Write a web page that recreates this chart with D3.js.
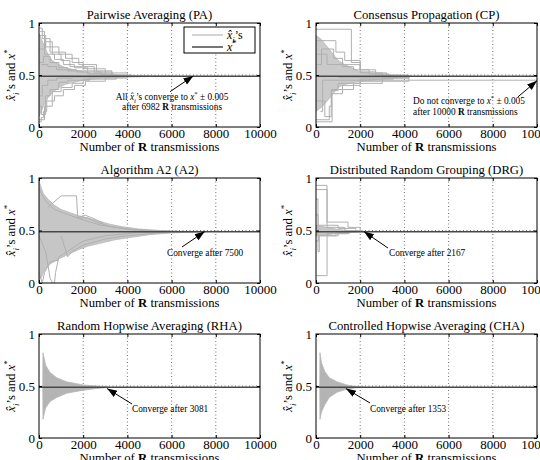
<!DOCTYPE html>
<html><head><meta charset="utf-8">
<script src="https://cdn.jsdelivr.net/npm/d3@7"></script>
<style>
body{margin:0;background:#fff}
svg{display:block}
text{font-family:"Liberation Serif","DejaVu Serif",serif;fill:#000}
</style>
</head><body>
<svg id="c" width="540" height="460"></svg>
<script>
// ---------------- data ----------------
const xTicks = [0, 2000, 4000, 6000, 8000, 10000];
const yTicks = [0, 0.5, 1];
const yTickLabels = ["0", "0.5", "1"];
const xStar = 0.487;
const titles = ["Pairwise Averaging (PA)", "Consensus Propagation (CP)", "Algorithm A2 (A2)",
  "Distributed Random Grouping (DRG)", "Random Hopwise Averaging (RHA)", "Controlled Hopwise Averaging (CHA)"];
const convergeAt = [6982, 10000, 7500, 2167, 3081, 1353];

// dense bundles of x_i traces (upper / lower edges)
const paUpper = [[0,0.9],[200,0.8],[400,0.7],[600,0.64],[900,0.6],[1200,0.57],[1600,0.55],[2000,0.53],[2600,0.515],[3300,0.505],[4000,0.497],[5000,0.491],[6000,0.489]];
const paLower = [[0,0.1],[200,0.2],[400,0.28],[600,0.33],[900,0.38],[1200,0.41],[1600,0.43],[2000,0.45],[2600,0.465],[3300,0.475],[4000,0.48],[5000,0.485],[6000,0.487]];
const cpUpper = [[0,0.88],[200,0.85],[400,0.8],[700,0.72],[1000,0.64],[1300,0.6],[1700,0.56],[2000,0.53],[2700,0.51],[3300,0.5],[4200,0.495]];
const cpLower = [[0,0.15],[300,0.2],[700,0.3],[1000,0.38],[1300,0.41],[1700,0.43],[2000,0.44],[3000,0.46],[4200,0.475]];
const a2Upper = [[0,0.97],[80,0.92],[200,0.85],[400,0.8],[700,0.74],[1000,0.7],[1400,0.67],[1800,0.64],[2200,0.62],[2700,0.59],[3200,0.56],[3800,0.535],[4500,0.515],[5500,0.5],[6500,0.492],[7500,0.488]];
const a2Lower = [[0,0.03],[100,0.05],[250,0.12],[500,0.18],[800,0.22],[1100,0.25],[1400,0.28],[1800,0.32],[2200,0.35],[2800,0.38],[3400,0.41],[4000,0.43],[5000,0.46],[6000,0.477],[7000,0.484],[7500,0.487]];
const drgUpper = [[0,0.55],[500,0.53],[1000,0.51],[1500,0.5],[2200,0.49]];
const drgLower = [[0,0.45],[500,0.46],[1000,0.475],[1500,0.483],[2200,0.487]];
const rhaUpper = [[170,0.5],[180,0.82],[300,0.7],[500,0.63],[800,0.58],[1250,0.54],[2000,0.51],[2600,0.5],[3100,0.492]];
const rhaLower = [[170,0.5],[180,0.18],[300,0.29],[500,0.35],[800,0.39],[1250,0.43],[2000,0.46],[2600,0.475],[3100,0.485]];
const chaUpper = [[170,0.5],[180,0.82],[250,0.72],[400,0.64],[600,0.58],[950,0.54],[1400,0.51],[1800,0.495],[2200,0.489]];
const chaLower = [[170,0.5],[180,0.18],[250,0.25],[400,0.32],[600,0.39],[950,0.44],[1400,0.47],[1800,0.482],[2200,0.486]];

// individual x_i traces (outliers)
const paTraces = [
  [[0,0.95],[150,0.85],[500,0.72],[1200,0.66],[1800,0.6],[2600,0.53],[3300,0.49]],
  [[0,0.88],[300,0.77],[900,0.7],[1500,0.62],[2000,0.56],[3000,0.51],[3400,0.487]],
  [[0,0.05],[100,0.09],[200,0.15],[350,0.25],[700,0.3],[1100,0.36],[1600,0.4],[2100,0.44],[3000,0.47],[4000,0.487]],
  [[0,0.07],[250,0.2],[600,0.34],[1000,0.38],[1500,0.42],[2000,0.46],[3500,0.487]],
  [[0,0.75],[300,0.82],[600,0.7],[1000,0.64],[1400,0.58],[2500,0.52],[4000,0.487]],
  [[100,0.6],[400,0.58],[800,0.55],[1700,0.53],[2800,0.5],[4200,0.487]],
  [[0,0.3],[150,0.4],[400,0.45],[800,0.47],[1500,0.48],[2500,0.487]],
  [[0,0.62],[200,0.68],[500,0.62],[900,0.57],[1300,0.54],[2200,0.51],[3000,0.487]],
  [[0,0.2],[120,0.12],[300,0.3],[500,0.36],[900,0.43],[1300,0.45],[2300,0.48],[3200,0.487]],
  [[50,0.92],[250,0.7],[700,0.65],[1100,0.6],[1600,0.57],[2200,0.54],[3300,0.487]]
];
const cpTraces = [
  [[0,0.94],[1600,0.62],[2000,0.53],[2700,0.5],[4200,0.487]],
  [[0,0.83],[900,0.72],[1300,0.64],[2000,0.55],[2700,0.52],[3200,0.487]],
  [[0,0.05],[730,0.32],[1200,0.4],[2000,0.44],[4200,0.487]],
  [[0,0.07],[600,0.2],[700,0.36],[1700,0.42],[3000,0.47],[4200,0.487]],
  [[200,0.15],[300,0.45],[10000,0.45]],
  [[0,0.7],[500,0.6],[1500,0.6],[2000,0.52],[3000,0.487]],
  [[0,0.6],[250,0.75],[800,0.66],[1200,0.58],[1700,0.55],[2400,0.51],[3300,0.487]],
  [[0,0.25],[400,0.1],[690,0.35],[1000,0.42],[2000,0.46],[3500,0.487]],
  [[1000,0.475],[4200,0.487]]
];
const a2Traces = [
  [[0,0.45],[300,0.3],[500,0.05],[600,0],[700,0],[750,0.1],[900,0.25],[1300,0.3],[2000,0.4],[3000,0.45],[4500,0.48],[6000,0.487]],
  [[0,0.1],[150,0],[250,0.1],[500,0.2],[900,0.22]],
  [[400,0.72],[1000,0.83],[1700,0.83],[1750,0.62],[2200,0.62],[2600,0.58],[3200,0.54],[4000,0.51],[5000,0.495],[6500,0.488]],
  [[1800,0.63],[2100,0.645],[2400,0.62],[2900,0.57]],
  [[0,0.9],[300,0.78],[700,0.7],[1200,0.66],[2000,0.6],[2800,0.55],[3500,0.53],[4300,0.51],[5500,0.495],[7000,0.488]],
  [[1000,0.45],[1300,0.25],[1500,0.3],[2000,0.36],[3000,0.42],[4000,0.45],[5500,0.48]]
];
const drgTraces = [
  [[0,0.93],[500,0.58],[1450,0.53],[2000,0.487]],
  [[0,0.89],[500,0.55],[1000,0.52],[1800,0.49]],
  [[0,0.07],[500,0.45],[1000,0.48],[1500,0.487]],
  [[0,0.8],[90,0.3],[150,0.45],[500,0.47],[1500,0.487]],
  [[0,0.65],[100,0.55],[500,0.53],[1300,0.5],[2000,0.487]],
  [[0,0.4],[120,0.45],[900,0.47],[1400,0.487]]
];

// annotations: arrow head, arrow tail, text anchor (data units)
const annHead = [[6982,0.49],[10000,0.445],[7500,0.49],[2167,0.49],[3081,0.475],[1353,0.475]];
const annTail = [[5930,0.34],[9140,0.29],[6470,0.343],[3258,0.333],[4208,0.327],[2443,0.337]];
const annText = [[6020,0.26],[4390,0.22],[5792,0.257],[3303,0.257],[4208,0.25],[2443,0.25]];
const annAnchor = ["middle","start","start","start","start","start"];

// ---------------- layout ----------------
const frames = [
  {x0:39, x1:260, y0:23, y1:127},
  {x0:316, x1:537, y0:23, y1:127},
  {x0:39, x1:260, y0:178, y1:283},
  {x0:316, x1:537, y0:178, y1:283},
  {x0:39, x1:260, y0:334, y1:438},
  {x0:316, x1:537, y0:334, y1:438}
];
const panels = [
  {up:paUpper, lo:paLower, traces:paTraces, curve:d3.curveStepAfter, fill:"#cacaca"},
  {up:cpUpper, lo:cpLower, traces:cpTraces, curve:d3.curveStepAfter, fill:"#cacaca"},
  {up:a2Upper, lo:a2Lower, traces:a2Traces, curve:d3.curveLinear, fill:"#c6c6c6"},
  {up:drgUpper, lo:drgLower, traces:drgTraces, curve:d3.curveStepAfter, fill:"#c6c6c6"},
  {up:rhaUpper, lo:rhaLower, traces:[], curve:d3.curveLinear, fill:"#b4b4b4"},
  {up:chaUpper, lo:chaLower, traces:[], curve:d3.curveLinear, fill:"#b4b4b4"}
];

const svg = d3.select("#c");
svg.append("rect").attr("width",540).attr("height",460).attr("fill","#fff");
const defs = svg.append("defs");
defs.append("marker").attr("id","ah").attr("viewBox","0 -5 10 10").attr("refX",10).attr("refY",0)
  .attr("markerUnits","userSpaceOnUse").attr("markerWidth",10).attr("markerHeight",10).attr("orient","auto")
  .append("path").attr("d","M0,-3.6L10,0L0,3.6Z").attr("fill","#000");

function rich(sel, parts, size){
  let shift = 0;
  parts.forEach(p=>{
    const target = p.sub ? size*0.3 : p.sup ? -size*0.4 : 0;
    const ts = sel.append("tspan").text(p.t)
      .attr("font-size", (p.sub||p.sup) ? size*0.72 : size);
    if (target !== shift) ts.attr("dy", target - shift);
    shift = target;
    if (p.it) ts.attr("font-style","italic");
    if (p.b) ts.attr("font-weight","bold");
  });
}
const XI = [{t:"x\u0302", it:true},{t:"i", it:true, sub:true}];
const XS = [{t:"x", it:true},{t:"*", sup:true}];

panels.forEach((p,i)=>{
  const f = frames[i];
  const x = d3.scaleLinear([0,10000],[f.x0,f.x1]);
  const y = d3.scaleLinear([0,1],[f.y1,f.y0]);
  const g = svg.append("g");
  const cid = "clip"+i;
  defs.append("clipPath").attr("id",cid).append("rect")
    .attr("x",f.x0).attr("y",f.y0).attr("width",f.x1-f.x0).attr("height",f.y1-f.y0);

  // grid
  const grid = g.append("g").attr("stroke","#333").attr("stroke-width",0.7).attr("stroke-dasharray","1,2.5");
  xTicks.slice(1,-1).forEach(t=>grid.append("line").attr("x1",x(t)).attr("x2",x(t)).attr("y1",f.y0).attr("y2",f.y1));
  yTicks.slice(1,-1).forEach(t=>grid.append("line").attr("x1",f.x0).attr("x2",f.x1).attr("y1",y(t)).attr("y2",y(t)));

  const data = g.append("g").attr("clip-path",`url(#${cid})`);
  // dense bundle
  const poly = p.up.concat(p.lo.slice().reverse());
  data.append("path").attr("d", d3.line().x(d=>x(d[0])).y(d=>y(d[1])).curve(d3.curveLinearClosed)(poly))
    .attr("fill", p.fill).attr("stroke", "#b8b8b8").attr("stroke-width",0.8);
  // traces
  const ln = d3.line().x(d=>x(d[0])).y(d=>y(d[1])).curve(p.curve);
  p.traces.forEach(t=>{
    data.append("path").attr("d", ln(t)).attr("fill","none").attr("stroke","#b0b0b0").attr("stroke-width",1);
  });
  // x*
  data.append("line").attr("x1",x(0)).attr("x2",x(10000)).attr("y1",y(xStar)).attr("y2",y(xStar))
    .attr("stroke","#484848").attr("stroke-width",1.5);

  // frame
  g.append("rect").attr("x",f.x0).attr("y",f.y0).attr("width",f.x1-f.x0).attr("height",f.y1-f.y0)
    .attr("fill","none").attr("stroke","#000").attr("stroke-width",1);

  // axes
  const ax = g.append("g").attr("transform",`translate(0,${f.y1})`)
    .call(d3.axisBottom(x).tickValues(xTicks).tickSize(-3).tickSizeOuter(0).tickPadding(2).tickFormat(d3.format("d")));
  const axT = g.append("g").attr("transform",`translate(0,${f.y0})`)
    .call(d3.axisTop(x).tickValues(xTicks).tickSize(-3).tickSizeOuter(0).tickFormat(""));
  const ay = g.append("g").attr("transform",`translate(${f.x0},0)`)
    .call(d3.axisLeft(y).tickValues(yTicks).tickSize(-3).tickSizeOuter(0).tickPadding(4).tickFormat((d,k)=>yTickLabels[k]));
  const ayR = g.append("g").attr("transform",`translate(${f.x1},0)`)
    .call(d3.axisRight(y).tickValues(yTicks).tickSize(-3).tickSizeOuter(0).tickFormat(""));
  [ax,axT,ay,ayR].forEach(a=>{
    a.select(".domain").remove();
    a.selectAll("line").attr("stroke","#000");
    a.selectAll("text").attr("font-family",'"Liberation Serif","DejaVu Serif",serif').attr("font-size",13).attr("fill","#000");
  });

  // title
  g.append("text").attr("x",(f.x0+f.x1)/2).attr("y",f.y0-4).attr("text-anchor","middle")
    .attr("font-size",12.7).text(titles[i]);
  // x label
  const xl = g.append("text").attr("x",(f.x0+f.x1)/2).attr("y",f.y1+24).attr("text-anchor","middle");
  rich(xl,[{t:"Number of "},{t:"R",b:true},{t:" transmissions"}],12.7);
  // y label
  const yl = g.append("text").attr("transform",`translate(${f.x0-24},${(f.y0+f.y1)/2}) rotate(-90)`)
    .attr("text-anchor","middle");
  rich(yl, XI.concat([{t:"\u2019s and "}], XS), 12.7);

  // annotation
  const h = annHead[i], tl = annTail[i], tx = annText[i];
  g.append("line").attr("x1",x(tl[0])).attr("y1",y(tl[1])).attr("x2",x(h[0])).attr("y2",y(h[1]))
    .attr("stroke","#000").attr("stroke-width",1).attr("marker-end","url(#ah)");
  const fs = 9.3;
  if (i===0 || i===1){
    const l1 = g.append("text").attr("x",x(tx[0])).attr("y",y(tx[1])).attr("text-anchor",annAnchor[i]);
    const l2 = g.append("text").attr("x",x(tx[0])).attr("y",y(tx[1])+10.5).attr("text-anchor",annAnchor[i]);
    if (i===0) rich(l1,[{t:"All "}].concat(XI,[{t:"\u2019s converge to "}],XS,[{t:" \u00b1 0.005"}]),fs);
    else rich(l1,[{t:"Do not converge to "}].concat(XS,[{t:" \u00b1 0.005"}]),fs);
    rich(l2,[{t:`after ${convergeAt[i]} `},{t:"R",b:true},{t:" transmissions"}],fs);
  } else {
    g.append("text").attr("x",x(tx[0])).attr("y",y(tx[1])).attr("text-anchor",annAnchor[i])
      .attr("font-size",fs).text(`Converge after ${convergeAt[i]}`);
  }

  // legend (first panel only)
  if (i===0){
    const lg = g.append("g");
    lg.append("rect").attr("x",184).attr("y",27).attr("width",71).attr("height",26)
      .attr("fill","#fff").attr("stroke","#000").attr("stroke-width",1);
    lg.append("line").attr("x1",192).attr("x2",223).attr("y1",35).attr("y2",35).attr("stroke","#b8b8b8").attr("stroke-width",1.2);
    lg.append("line").attr("x1",192).attr("x2",223).attr("y1",47).attr("y2",47).attr("stroke","#484848").attr("stroke-width",1.5);
    const t1 = lg.append("text").attr("x",227).attr("y",39);
    rich(t1, XI.concat([{t:"\u2019s"}]), 12);
    const t2 = lg.append("text").attr("x",227).attr("y",51);
    rich(t2, XS, 12);
  }
});
</script>
</body></html>
